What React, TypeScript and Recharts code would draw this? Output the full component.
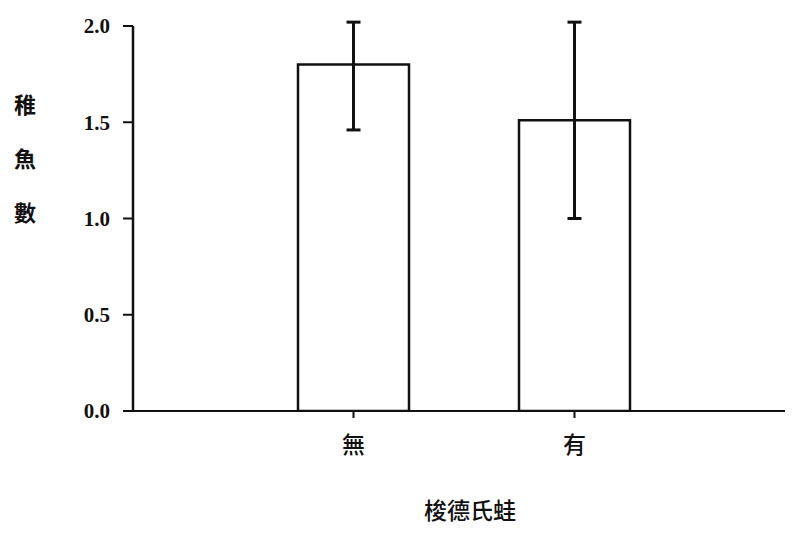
import {
  BarChart, Bar, ErrorBar,
  XAxis, YAxis,
} from 'recharts'

const categories = ['無', '有']
const means = [1.8, 1.51]
const errLow = [0.34, 0.51]
const errHigh = [0.22, 0.51]
const yTicks = [0, 0.5, 1, 1.5, 2]
const yTitle = ['稚', '魚', '數']
const xTitle = '梭德氏蛙'

const data = categories.map((name, i) => ({
  name,
  value: means[i],
  err: [errLow[i], errHigh[i]],
}))

const CJK = '"Noto Sans CJK TC", "Noto Sans CJK SC", sans-serif'

function YTitle() {
  return (
    <text x={25} y={103} textAnchor="middle" fontFamily={CJK} fontSize={22} fontWeight={700} fill="#111">
      {yTitle.map((ch, i) => (
        <tspan key={ch} x={25} dy={i === 0 ? 0 : 54} dominantBaseline="central">{ch}</tspan>
      ))}
    </text>
  )
}

export default function App() {
  return (
    <div style={{ position: 'absolute', left: 0, top: 0, width: 798, height: 534, background: '#fff' }}>
      <BarChart
        width={798}
        height={534}
        data={data}
        margin={{ top: 26, right: 13, left: 0, bottom: 0 }}
        barSize={111}
      >
        <XAxis
          dataKey="name"
          height={123}
          padding={{ left: 110, right: 100 }}
          axisLine={{ stroke: '#111', strokeWidth: 2 }}
          tickLine={{ stroke: '#111', strokeWidth: 2 }}
          tickSize={7}
          tickMargin={19}
          tick={{ fontFamily: CJK, fontSize: 23, fontWeight: 500, fill: '#111' }}
          label={{
            value: xTitle,
            position: 'insideBottom',
            offset: 15,
            dx: 11,
            style: { fontFamily: CJK, fontSize: 23, fontWeight: 500, fill: '#111' },
          }}
        />
        <YAxis
          width={133}
          domain={[0, 2]}
          ticks={yTicks}
          allowDataOverflow
          interval={0}
          tickFormatter={(v: number) => v.toFixed(1)}
          axisLine={{ stroke: '#111', strokeWidth: 2.5 }}
          tickLine={{ stroke: '#111', strokeWidth: 2 }}
          tickSize={10}
          tickMargin={13}
          tick={{ fontFamily: '"Liberation Serif", serif', fontSize: 21, fontWeight: 700, fill: '#111' }}
          label={<YTitle />}
        />
        <Bar dataKey="value" fill="#fff" stroke="#111" strokeWidth={2.5} isAnimationActive={false}>
          <ErrorBar dataKey="err" width={7} stroke="#111" strokeWidth={3} isAnimationActive={false} />
        </Bar>
      </BarChart>
    </div>
  )
}
